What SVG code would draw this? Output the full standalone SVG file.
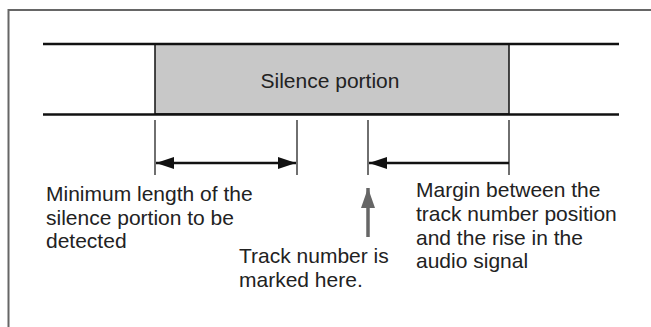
<svg xmlns="http://www.w3.org/2000/svg" width="651" height="327" viewBox="0 0 651 327">
<style>
.t{font-family:"Liberation Sans",Arial,sans-serif;font-size:21px;fill:#222}
.thick{stroke:#111;stroke-width:2.6;fill:none}
.tick{stroke:#222;stroke-width:1.3;fill:none}
.dim{stroke:#111;stroke-width:2.4;fill:none}
</style>
<defs>
<marker id="ah" viewBox="0 0 18 12" refX="18" refY="6" markerWidth="18" markerHeight="12" markerUnits="userSpaceOnUse" orient="auto-start-reverse">
<path d="M0,0 L18,6 L0,12 Z" fill="#111"/>
</marker>
<marker id="gh" viewBox="0 0 20 14" refX="20" refY="7" markerWidth="20" markerHeight="14" markerUnits="userSpaceOnUse" orient="auto">
<path d="M0,0 L20,7 L0,14 Z" fill="#666"/>
</marker>
</defs>
<rect width="651" height="327" fill="#fff"/>
<path d="M8.5,327 V10 H651" stroke="#666" stroke-width="2" fill="none"/>
<g id="silence-portion">
<rect x="155" y="44" width="354" height="70" fill="#c8c8c8" stroke="#111" stroke-width="1.5"/>
<text class="t" x="330" y="88" text-anchor="middle">Silence portion</text>
</g>
<g id="signal-lines">
<line class="thick" x1="43" y1="44" x2="619" y2="44"/>
<line class="thick" x1="43" y1="114.5" x2="619" y2="114.5"/>
</g>
<g id="connectors">
<line class="tick" x1="155" y1="120" x2="155" y2="175"/>
<line class="tick" x1="297" y1="120" x2="297" y2="175"/>
<line class="tick" x1="368" y1="120" x2="368" y2="175"/>
<line class="tick" x1="509" y1="120" x2="509" y2="175"/>
<line class="dim" x1="156" y1="163" x2="296" y2="163" marker-start="url(#ah)" marker-end="url(#ah)"/>
<line class="dim" x1="509" y1="163" x2="369" y2="163" marker-end="url(#ah)"/>
<line x1="368" y1="237" x2="368" y2="188" stroke="#666" stroke-width="3.5" marker-end="url(#gh)"/>
</g>
<g id="label-min">
<text class="t" x="46" y="201">Minimum length of the</text>
<text class="t" x="46" y="225">silence portion to be</text>
<text class="t" x="46" y="248">detected</text>
</g>
<g id="label-track">
<text class="t" x="239" y="263">Track number is</text>
<text class="t" x="239" y="287">marked here.</text>
</g>
<g id="label-margin">
<text class="t" x="416" y="197">Margin between the</text>
<text class="t" x="416" y="221">track number position</text>
<text class="t" x="416" y="245">and the rise in the</text>
<text class="t" x="416" y="268">audio signal</text>
</g>
</svg>
